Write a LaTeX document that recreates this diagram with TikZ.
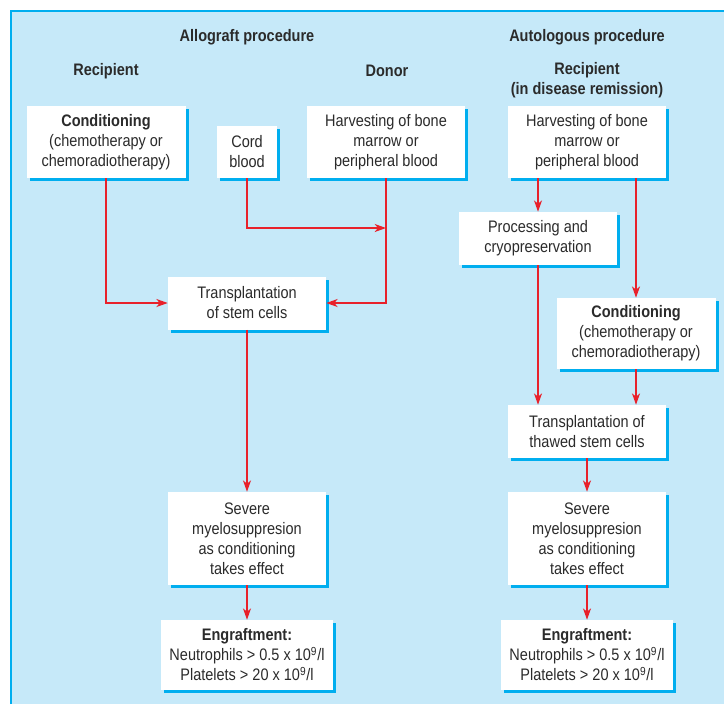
\documentclass[tikz,border=0pt]{standalone}
\usepackage{fontspec}
\setmainfont{Liberation Sans}[FakeStretch=0.87]
\usepackage{tikz}
\usetikzlibrary{arrows.meta,positioning,shadows}
\definecolor{panelblue}{HTML}{C6E9F9}
\definecolor{edgecyan}{HTML}{00AEEF}
\definecolor{flowred}{HTML}{E8212B}
\definecolor{inkgray}{HTML}{2B2B2B}

\begin{document}
\begin{tikzpicture}[x=0.75pt,y=-0.75pt,
  box/.style={fill=white, text=inkgray, align=center, inner sep=0pt,
    font=\fontsize{12.5}{15}\selectfont, minimum width=118.5pt,
    drop shadow={shadow xshift=2.25pt, shadow yshift=-2.25pt, fill=edgecyan, opacity=1}},
  head/.style={text=inkgray, font=\fontsize{12.5}{15}\selectfont\bfseries, align=center},
  flow/.style={draw=flowred, line width=1.2pt, -{Stealth[length=8.5pt,width=6pt,inset=2.5pt]}}]

% Panel
\useasboundingbox (0,0) rectangle (724,704);
\fill[panelblue] (11,11) rectangle (724,704);
\draw[edgecyan, line width=1.2pt] (11,704) -- (11,11) -- (724,11);

% Headings
\node[head] (allo) at (247,37) {Allograft procedure};
\node[head] (auto) at (587,37) {Autologous procedure};
\node[head] (recipL) at (106,71) {Recipient};
\node[head] (donor) at (387,71) {Donor};
\node[head] (recipR) at (587,80) {Recipient\\(in disease remission)};

% Allograft boxes
\node[box, minimum width=119.25pt, minimum height=54pt] (condL) at (106,142)
  {{\bfseries Conditioning}\\(chemotherapy or\\chemoradiotherapy)};
\node[box, minimum width=45pt, minimum height=39pt] (cord) at (247,152) {Cord\\blood};
\node[box, minimum height=54pt] (harvL) at (386,142) {Harvesting of bone\\marrow or\\peripheral blood};
\node[box, minimum height=39.75pt] (transL) at (247,303) {Transplantation\\of stem cells};
\node[box, minimum height=69.75pt] (sevL) at (247,538.5) {Severe\\myelosuppresion\\as conditioning\\takes effect};
\node[box, minimum width=129pt, minimum height=52.5pt] (engL) at (247,655)
  {{\bfseries Engraftment:}\\Neutrophils > 0.5 x 10\textsuperscript{9}/l\\Platelets > 20 x 10\textsuperscript{9}/l};

% Autologous boxes
\node[box, minimum height=54pt] (harvR) at (587,142) {Harvesting of bone\\marrow or\\peripheral blood};
\node[box, minimum height=39.75pt] (procR) at (538,238.5) {Processing and\\cryopreservation};
\node[box, minimum width=119.25pt, minimum height=53.25pt] (condR) at (636,333.5)
  {{\bfseries Conditioning}\\(chemotherapy or\\chemoradiotherapy)};
\node[box, minimum height=39.75pt] (thawR) at (587,431.5) {Transplantation of\\thawed stem cells};
\node[box, minimum height=69.75pt] (sevR) at (587,538.5) {Severe\\myelosuppresion\\as conditioning\\takes effect};
\node[box, minimum width=129pt, minimum height=52.5pt] (engR) at (587,655)
  {{\bfseries Engraftment:}\\Neutrophils > 0.5 x 10\textsuperscript{9}/l\\Platelets > 20 x 10\textsuperscript{9}/l};

% Allograft arrows
\coordinate (cordjoin) at (386,228);
\draw[flow] (condL.south) |- (transL.west);
\draw[flow] (cord.south) |- (cordjoin);
\draw[flow] (harvL.south) |- (transL.east);
\draw[flow] (transL) -- (sevL);
\draw[flow] (sevL) -- (engL);

% Autologous arrows
\draw[flow] (harvR.south -| procR.north) -- (procR.north);
\draw[flow] (harvR.south -| condR.north) -- (condR.north);
\draw[flow] (procR.south) -- (procR.south |- thawR.north);
\draw[flow] (condR.south) -- (condR.south |- thawR.north);
\draw[flow] (thawR) -- (sevR);
\draw[flow] (sevR) -- (engR);
\end{tikzpicture}
\end{document}
